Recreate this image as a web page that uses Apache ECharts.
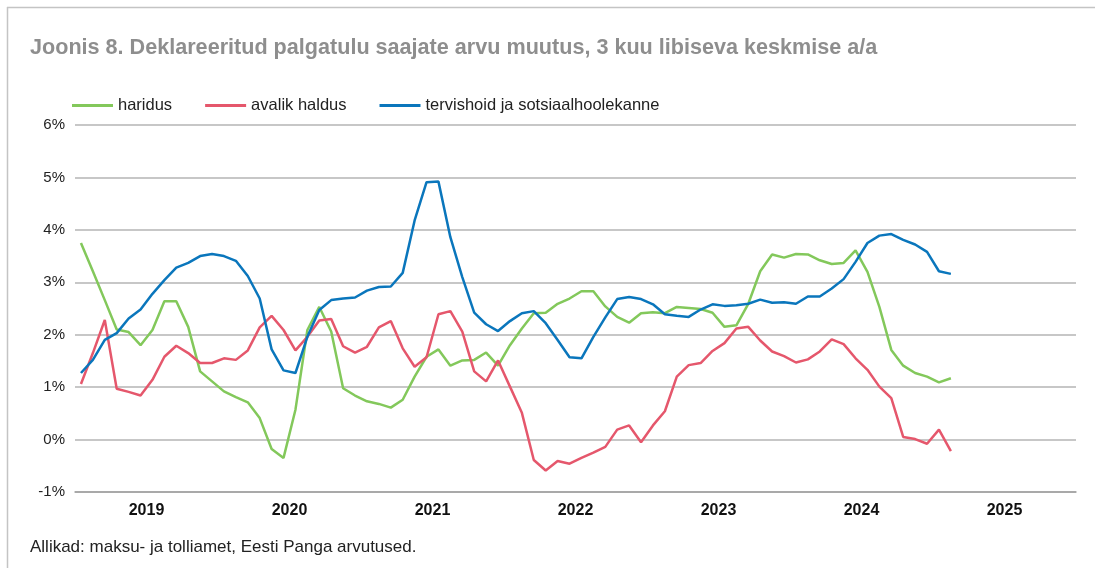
<!DOCTYPE html>
<html>
<head>
<meta charset="utf-8">
<script src="https://cdn.jsdelivr.net/npm/echarts@6/dist/echarts.min.js"></script>
<style>
  html, body { margin: 0; padding: 0; background: #fff; }
  #chart { width: 1095px; height: 568px; }
</style>
</head>
<body>
<div id="chart"></div>
<script>
// aastad (x-telje sildid)
const years = ['2019', '2020', '2021', '2022', '2023', '2024', '2025']

// kuud 2019-01 ... 2025-12
const months = []
years.forEach(y => {
  for (let m = 1; m <= 12; m++) months.push(y + '-' + (m < 10 ? '0' + m : m))
})

// haridus, % a/a (2019-01 ... 2025-02)
const haridus = [
  3.75, 3.21, 2.66, 2.1, 2.05, 1.80, 2.09, 2.64, 2.64, 2.15, 1.30, 1.11,
  0.92, 0.81, 0.71, 0.41, -0.18, -0.35, 0.57, 2.09, 2.53, 2.06, 0.98, 0.84,
  0.73, 0.68, 0.61, 0.76, 1.20, 1.58, 1.72, 1.41, 1.51, 1.52, 1.66, 1.41,
  1.80, 2.12, 2.41, 2.42, 2.59, 2.69, 2.83, 2.83, 2.54, 2.34, 2.23, 2.41,
  2.43, 2.41, 2.53, 2.51, 2.49, 2.42, 2.15, 2.18, 2.59, 3.21, 3.53, 3.47,
  3.54, 3.53, 3.42, 3.35, 3.37, 3.61, 3.20, 2.53, 1.71, 1.41, 1.27, 1.20,
  1.09, 1.17
]

// avalik haldus
const avalikHaldus = [
  1.06, 1.65, 2.28, 0.97, 0.91, 0.84, 1.14, 1.58, 1.79, 1.65, 1.46, 1.46,
  1.55, 1.52, 1.70, 2.14, 2.36, 2.09, 1.70, 1.96, 2.27, 2.30, 1.78, 1.66,
  1.77, 2.14, 2.26, 1.74, 1.39, 1.57, 2.39, 2.45, 2.06, 1.30, 1.11, 1.51,
  1.01, 0.51, -0.39, -0.59, -0.41, -0.46, -0.35, -0.25, -0.14, 0.19, 0.27, -0.05,
  0.27, 0.54, 1.20, 1.42, 1.46, 1.69, 1.84, 2.12, 2.15, 1.89, 1.68, 1.59,
  1.47, 1.53, 1.68, 1.91, 1.82, 1.55, 1.33, 1.01, 0.79, 0.05, 0.01, -0.08,
  0.19, -0.22
]

// tervishoid ja sotsiaalhoolekanne
const tervishoid = [
  1.27, 1.52, 1.90, 2.03, 2.31, 2.48, 2.78, 3.04, 3.28, 3.37, 3.50, 3.54,
  3.50, 3.41, 3.12, 2.69, 1.72, 1.32, 1.27, 1.96, 2.47, 2.66, 2.69, 2.71,
  2.84, 2.91, 2.92, 3.18, 4.18, 4.91, 4.92, 3.86, 3.10, 2.42, 2.20, 2.07,
  2.26, 2.41, 2.45, 2.22, 1.90, 1.57, 1.55, 1.96, 2.33, 2.68, 2.72, 2.68,
  2.58, 2.39, 2.36, 2.34, 2.48, 2.58, 2.55, 2.56, 2.59, 2.67, 2.61, 2.62,
  2.59, 2.73, 2.73, 2.88, 3.06, 3.39, 3.75, 3.89, 3.92, 3.81, 3.72, 3.58,
  3.21, 3.16
]

const colors = ['#83c85b', '#e5576c', '#0a76bc']
const font = 'Liberation Sans, Arial, sans-serif'

const chart = echarts.init(document.getElementById('chart'))

const lineSeries = (name, data, color) => ({
  name: name,
  type: 'line',
  xAxisIndex: 0,
  data: data,
  symbol: 'none',
  lineStyle: { color: color, width: 2.5 },
  itemStyle: { color: color }
})

chart.setOption({
  animation: false,
  backgroundColor: '#fff',
  textStyle: { fontFamily: font },
  title: {
    text: 'Joonis 8. Deklareeritud palgatulu saajate arvu muutus, 3 kuu libiseva keskmise a/a',
    left: 25,
    top: 32,
    textStyle: { color: '#8e8e8e', fontSize: 21.6, fontWeight: 'bold', fontFamily: font }
  },
  legend: {
    left: 67,
    top: 92,
    itemWidth: 41,
    itemHeight: 3,
    itemGap: 33,
    icon: 'rect',
    textStyle: { color: '#222', fontSize: 16.5, fontFamily: font },
    data: ['haridus', 'avalik haldus', 'tervishoid ja sotsiaalhoolekanne']
  },
  grid: { left: 75, right: 19, top: 125, bottom: 76 },
  xAxis: [
    {
      type: 'category',
      data: months,
      boundaryGap: true,
      show: false
    },
    {
      type: 'category',
      data: years,
      position: 'bottom',
      boundaryGap: true,
      axisLine: { lineStyle: { color: '#a0a0a0', width: 1.5 } },
      axisTick: { inside: true, length: 6, lineStyle: { color: '#a0a0a0', width: 1.5 } },
      axisLabel: { color: '#111', fontSize: 16, fontWeight: 'bold', margin: 11, fontFamily: font },
      splitLine: { show: false }
    }
  ],
  yAxis: {
    type: 'value',
    min: -1,
    max: 6,
    interval: 1,
    axisLine: { show: false },
    axisTick: { show: false },
    axisLabel: { color: '#222', fontSize: 15, margin: 10, formatter: '{value}%', fontFamily: font },
    splitLine: { lineStyle: { color: '#b4b4b4', width: 1.5 } }
  },
  graphic: [
    { type: 'line', shape: { x1: 7, y1: 7.5, x2: 1095, y2: 7.5 }, style: { stroke: '#c4c4c4', lineWidth: 1.5 } },
    { type: 'line', shape: { x1: 7.5, y1: 7, x2: 7.5, y2: 568 }, style: { stroke: '#c4c4c4', lineWidth: 1.5 } },
    {
      type: 'text',
      left: 30,
      top: 539,
      style: { text: 'Allikad: maksu- ja tolliamet, Eesti Panga arvutused.', fill: '#222', fontSize: 17, fontFamily: font }
    }
  ],
  series: [
    lineSeries('haridus', haridus, colors[0]),
    lineSeries('avalik haldus', avalikHaldus, colors[1]),
    lineSeries('tervishoid ja sotsiaalhoolekanne', tervishoid, colors[2])
  ]
})
</script>
</body>
</html>
